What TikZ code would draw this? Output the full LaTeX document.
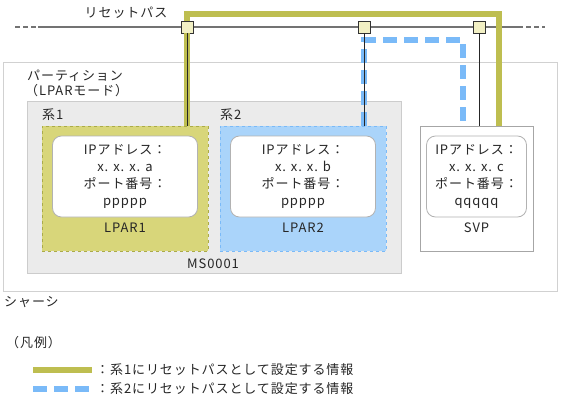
\documentclass[tikz,border=0pt]{standalone}
\usepackage{fontspec}
\setmainfont[LetterSpace=7]{Noto Sans CJK JP}
\usetikzlibrary{positioning}
\definecolor{sysone}{RGB}{190,190,80}
\definecolor{systwo}{RGB}{122,186,248}
\definecolor{lpone}{RGB}{216,214,122}
\definecolor{lptwo}{RGB}{170,212,250}
\definecolor{sqfill}{RGB}{242,240,196}
\begin{document}
\begin{tikzpicture}[x=1pt, y=-1pt,
  every node/.style={font=\fontsize{13}{17}\selectfont, inner sep=0pt, text=black!85},
  rline/.style={draw=black!55, line width=1.3pt},
  jsq/.style={draw=black!80, fill=sqfill, minimum size=12pt, line width=0.8pt},
  sysonepath/.style={draw=sysone, line width=6pt},
  systwopath/.style={draw=systwo, line width=6pt, dash pattern=on 13.5pt off 7.5pt},
  chassisbox/.style={draw=black!18, line width=0.8pt, minimum width=554pt, minimum height=229pt},
  partbox/.style={draw=black!20, fill=black!8, line width=0.8pt, minimum width=374pt, minimum height=172pt},
  lpbox/.style={dashed, line width=0.8pt, minimum width=166pt, minimum height=125pt},
  infobox/.style={draw=black!30, fill=white, line width=0.8pt, rounded corners=9pt, minimum height=81pt, align=center},
]
\useasboundingbox (0,0) rectangle (561,401);
% boxes
\node[chassisbox] (chassis) at (280,176.5) {};
\node[anchor=west] (chassislbl) at (4,302) {シャーシ};
\node[anchor=west] (partlbl) at (27,76) {パーティション};
\node[anchor=west] (modelbl) at (25,91) {（LPARモード）};
\node[partbox] (part) at (214,187) {};
\node[anchor=west] (sys1lbl) at (42,115) {系1};
\node[anchor=west] (sys2lbl) at (220,115) {系2};
\node (mslbl) at (213,264) {MS0001};
\node[lpbox, draw=sysone!90!black, fill=lpone] (lpar1) at (125,188.5) {};
\node[lpbox, draw=systwo, fill=lptwo] (lpar2) at (303,188.5) {};
\node[lpbox, draw=black!35, fill=white, solid, minimum width=113pt] (svp) at (476.5,188.5) {};
\node[infobox, minimum width=145pt] (info1) at ([yshift=12pt]lpar1.center) {IPアドレス：\\x. x. x. a\\ポート番号：\\ppppp};
\node[infobox, minimum width=145pt] (info2) at ([yshift=12pt]lpar2.center) {IPアドレス：\\x. x. x. b\\ポート番号：\\ppppp};
\node[infobox, minimum width=100pt] (info3) at ([yshift=12pt]svp.center) {IPアドレス：\\x. x. x. c\\ポート番号：\\qqqqq};
\node[below=5pt of info1] (lpar1lbl) {LPAR1};
\node[below=5pt of info2] (lpar2lbl) {LPAR2};
\node[below=5pt of info3] (svplbl) {SVP};
% reset path
\node (resetlbl) at (126,12.5) {リセットパス};
\coordinate (rle) at (15,27);
\coordinate (rl) at (38,27);
\coordinate (rr) at (518,27);
\coordinate (rre) at (545,27);
\draw[rline] (rl) -- (rr);
\draw[rline, dash pattern=on 5pt off 3pt] (rle) -- (rl);
\draw[rline, dash pattern=on 5pt off 3pt] (rr) -- (rre);
\node[jsq] (sq1) at (187,27) {};
\node[jsq] (sq2) at (364,27) {};
\node[jsq] (sq3) at (479,27) {};
\coordinate (otop) at (499,14);
\coordinate (btop) at (463,40);
\draw[sysonepath] (lpar1.north -| sq1) -- (sq1.south);
\draw[sysonepath] (sq1.north) -- (sq1 |- otop) -- (otop) -- (otop |- svp.north);
\draw[systwopath] (lpar2.north -| sq2) -- (sq2 |- btop) -- (btop) -- (btop |- svp.north);
\draw[black!85, line width=0.9pt] (sq1.south) -- (sq1 |- lpar1.north);
\draw[black!85, line width=0.9pt] (sq2.south) -- (sq2 |- lpar2.north);
\draw[black!85, line width=0.9pt] (sq3.south) -- (sq3 |- svp.north);
% legend
\node[anchor=west] (legendlbl) at (6,343) {（凡例）};
\coordinate (l1a) at (33,370);
\coordinate (l1b) at (92,370);
\coordinate (l2a) at (33,389);
\coordinate (l2b) at (92,389);
\draw[sysonepath] (l1a) -- (l1b);
\draw[systwopath] (l2a) -- (l2b);
\node[anchor=west] (l1txt) at (96,370) {：系1にリセットパスとして設定する情報};
\node[anchor=west] (l2txt) at (96,389) {：系2にリセットパスとして設定する情報};
\end{tikzpicture}
\end{document}
